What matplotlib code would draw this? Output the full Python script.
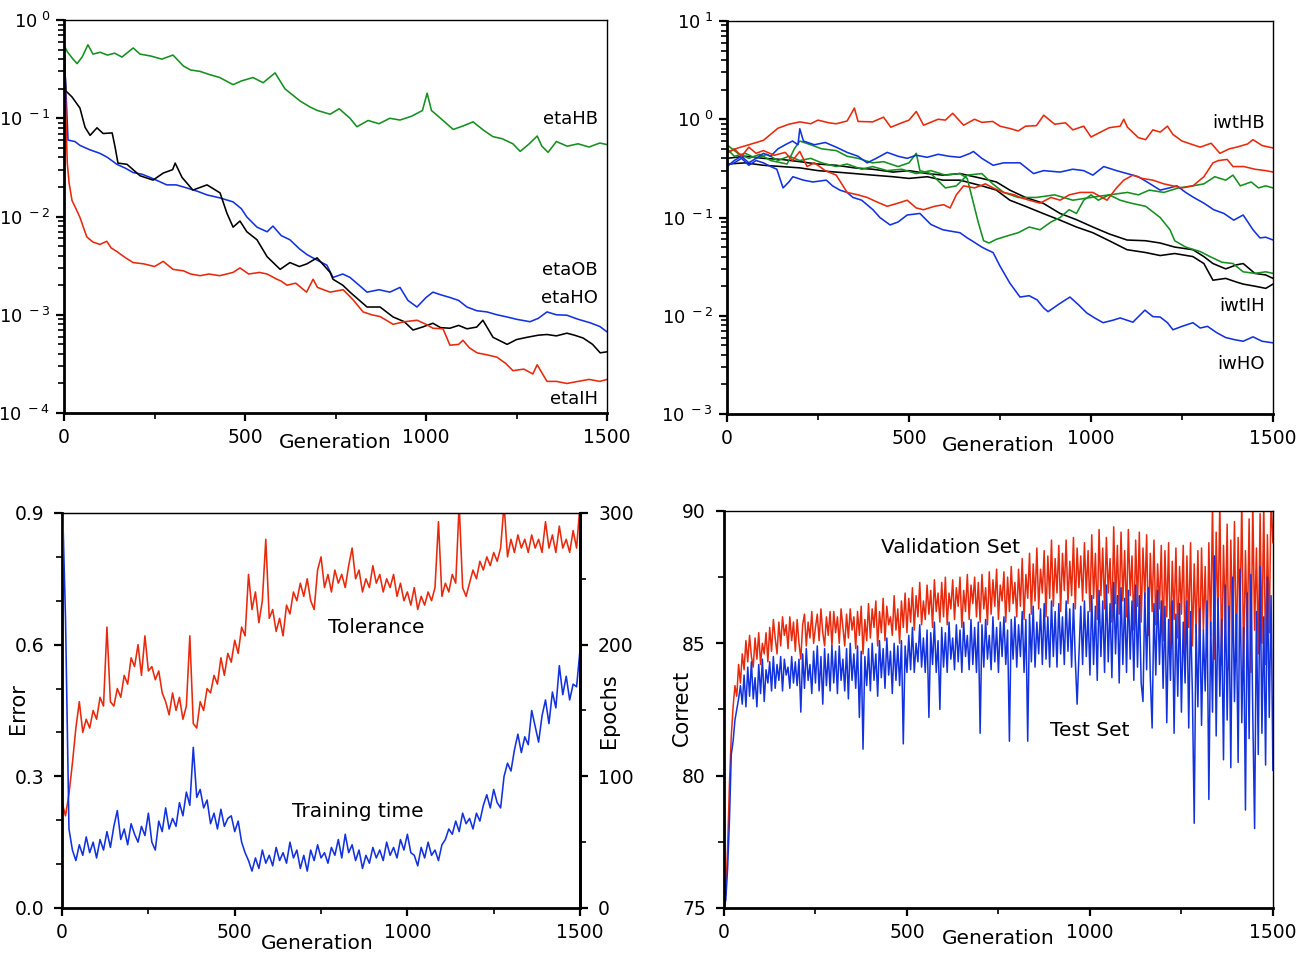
import numpy as np
import matplotlib
matplotlib.use("Agg")
import matplotlib.pyplot as plt
from matplotlib.ticker import FixedLocator, NullFormatter, LogLocator

plt.rcParams['font.family'] = ['DejaVu Sans']

RED = '#e8290c'
BLUE = '#1232e0'
GREEN = '#14901e'
BLACK = '#000000'
LW = 1.15

# ---------------- top left: learning rates (log) ----------------
eta_hb_gen = [0, 10, 25, 36, 50, 66, 80, 100, 120, 140, 160, 191, 210, 240, 270, 301, 330, 350, 376, 400,
              430, 467, 490, 522, 550, 583, 610, 652, 680, 700, 735, 760, 790, 809, 840, 870, 900, 928, 960,
              990, 1003, 1015, 1040, 1075, 1100, 1130, 1160, 1185, 1210, 1240, 1260, 1285, 1307, 1320, 1337,
              1360, 1390, 1420, 1450, 1480, 1500]
eta_hb = [0.55, 0.47, 0.40, 0.36, 0.42, 0.56, 0.45, 0.47, 0.44, 0.46, 0.42, 0.52, 0.45, 0.43, 0.40, 0.44,
          0.34, 0.31, 0.30, 0.28, 0.26, 0.22, 0.24, 0.26, 0.23, 0.29, 0.20, 0.15, 0.13, 0.12, 0.11, 0.125,
          0.10, 0.082, 0.095, 0.088, 0.10, 0.096, 0.105, 0.12, 0.18, 0.12, 0.10, 0.077, 0.083, 0.092, 0.075,
          0.065, 0.062, 0.055, 0.046, 0.055, 0.066, 0.052, 0.045, 0.058, 0.052, 0.055, 0.051, 0.056, 0.054]

eta_ih_gen = [0, 3, 6, 9, 14, 22, 33, 44, 55, 63, 80, 99, 118, 130, 146, 170, 191, 220, 250, 274, 301, 330,
              350, 376, 400, 430, 467, 486, 510, 540, 561, 588, 600, 616, 640, 670, 688, 700, 735, 771, 800,
              826, 850, 873, 909, 940, 975, 1000, 1019, 1047, 1066, 1090, 1102, 1120, 1141, 1170, 1196, 1220,
              1240, 1270, 1295, 1307, 1334, 1360, 1389, 1420, 1450, 1480, 1500]
eta_ih = [0.5, 0.25, 0.08, 0.035, 0.022, 0.0146, 0.012, 0.0098, 0.0075, 0.0062, 0.0055, 0.0052, 0.0056,
          0.0048, 0.0044, 0.0038, 0.0034, 0.0033, 0.0031, 0.0035, 0.0029, 0.0028, 0.0026, 0.0025, 0.0026,
          0.0025, 0.0027, 0.0030, 0.0026, 0.0027, 0.0026, 0.0023, 0.0022, 0.0020, 0.0021, 0.0017, 0.0023,
          0.0019, 0.0017, 0.0018, 0.0014, 0.00107, 0.0010, 0.00096, 0.0008, 0.00085, 0.00088, 0.0008,
          0.00073, 0.00072, 0.00049, 0.0005, 0.00055, 0.00046, 0.00041, 0.00039, 0.00037, 0.00032, 0.00027,
          0.00028, 0.00025, 0.00031, 0.00021, 0.00021, 0.0002, 0.00021, 0.00022, 0.00021, 0.00022]

eta_ho_gen = [0, 5, 11, 30, 44, 70, 99, 120, 146, 170, 191, 215, 238, 260, 284, 310, 340, 370, 395, 430, 467,
              490, 505, 533, 561, 577, 600, 624, 650, 671, 699, 726, 743, 770, 790, 815, 837, 870, 900, 928,
              950, 975, 1000, 1019, 1040, 1066, 1090, 1113, 1140, 1168, 1196, 1224, 1250, 1287, 1310, 1334,
              1360, 1389, 1420, 1453, 1480, 1500]
eta_ho = [0.5, 0.2, 0.06, 0.058, 0.053, 0.048, 0.044, 0.040, 0.034, 0.031, 0.028, 0.027, 0.025, 0.023, 0.021,
          0.021, 0.0195, 0.018, 0.0166, 0.0155, 0.0141, 0.012, 0.0099, 0.0078, 0.0070, 0.0080, 0.0064,
          0.0058, 0.0047, 0.0041, 0.0036, 0.0032, 0.0024, 0.0026, 0.0024, 0.0020, 0.0017, 0.0018, 0.0017,
          0.0019, 0.0014, 0.0012, 0.0015, 0.0017, 0.0016, 0.0015, 0.0014, 0.0012, 0.0011, 0.00107, 0.0010,
          0.00095, 0.0009, 0.00085, 0.00092, 0.00107, 0.001, 0.00099, 0.0009, 0.00083, 0.00076, 0.00067]

eta_ob_gen = [0, 5, 22, 44, 58, 72, 91, 108, 133, 141, 149, 174, 210, 246, 274, 300, 307, 326, 356, 395, 431,
              450, 467, 486, 505, 533, 561, 597, 624, 650, 671, 699, 735, 743, 770, 790, 837, 873, 909, 940,
              964, 990, 1019, 1040, 1066, 1090, 1113, 1140, 1157, 1185, 1224, 1250, 1279, 1310, 1334, 1360,
              1389, 1410, 1434, 1460, 1481, 1500]
eta_ob = [0.5, 0.19, 0.165, 0.127, 0.081, 0.067, 0.080, 0.070, 0.071, 0.051, 0.035, 0.034, 0.026, 0.0235,
          0.0277, 0.030, 0.035, 0.025, 0.0186, 0.021, 0.0174, 0.0108, 0.0078, 0.0090, 0.0070, 0.0058,
          0.0039, 0.0029, 0.0034, 0.0031, 0.0033, 0.0038, 0.0027, 0.0023, 0.0020, 0.0017, 0.0012, 0.0012,
          0.00095, 0.00085, 0.00070, 0.00075, 0.00082, 0.00074, 0.00073, 0.00078, 0.00072, 0.00075,
          0.00088, 0.00059, 0.00050, 0.00056, 0.00059, 0.00062, 0.00063, 0.00061, 0.00065, 0.00062,
          0.00058, 0.0005, 0.00041, 0.00042]

# ---------------- top right: initial weights (log) ----------------
hb1_gen = [0, 30, 60, 100, 140, 170, 200, 230, 250, 280, 300, 330, 350, 360, 400, 430, 450, 480, 500, 520,
           540, 550, 580, 600, 620, 650, 680, 700, 730, 750, 780, 800, 820, 850, 870, 900, 930, 950, 980,
           1000, 1020, 1050, 1080, 1090, 1100, 1130, 1150, 1170, 1190, 1210, 1225, 1250, 1280, 1300, 1330,
           1354, 1380, 1400, 1430, 1445, 1470, 1500]
hb1 = [0.46, 0.51, 0.55, 0.61, 0.81, 0.89, 0.94, 0.90, 0.98, 0.92, 0.90, 0.96, 1.3, 0.95, 0.94, 1.05, 0.83,
       0.92, 0.98, 1.2, 0.87, 0.90, 1.0, 0.98, 1.15, 0.87, 1.0, 0.93, 0.95, 0.85, 0.80, 0.76, 0.85, 0.86,
       1.1, 0.89, 0.92, 0.78, 0.85, 0.66, 0.72, 0.82, 0.85, 1.0, 0.83, 0.65, 0.62, 0.78, 0.74, 0.85, 0.70,
       0.60, 0.55, 0.52, 0.57, 0.45, 0.50, 0.52, 0.56, 0.62, 0.54, 0.51]

hb2_gen = [0, 20, 40, 60, 80, 100, 130, 160, 180, 200, 220, 240, 270, 300, 330, 360, 385, 410, 440, 470,
           495, 520, 540, 570, 595, 613, 630, 650, 680, 710, 731, 760, 790, 805, 830, 860, 890, 915, 940,
           970, 1005, 1030, 1044, 1070, 1090, 1115, 1140, 1170, 1200, 1225, 1250, 1280, 1310, 1335, 1350,
           1374, 1390, 1420, 1450, 1480, 1500]
hb2 = [0.45, 0.50, 0.42, 0.52, 0.45, 0.48, 0.43, 0.46, 0.38, 0.47, 0.33, 0.36, 0.30, 0.27, 0.18, 0.17,
       0.16, 0.145, 0.13, 0.14, 0.15, 0.125, 0.12, 0.13, 0.135, 0.125, 0.17, 0.21, 0.20, 0.22, 0.20, 0.18,
       0.17, 0.16, 0.15, 0.14, 0.16, 0.15, 0.17, 0.18, 0.18, 0.16, 0.15, 0.20, 0.24, 0.27, 0.25, 0.24,
       0.22, 0.21, 0.20, 0.21, 0.26, 0.36, 0.38, 0.39, 0.33, 0.33, 0.31, 0.30, 0.29]

ho1_gen = [0, 20, 40, 60, 80, 100, 120, 140, 160, 180, 195, 200, 210, 240, 270, 300, 330, 360, 385, 410,
           440, 470, 495, 520, 550, 580, 610, 640, 668, 677, 700, 731, 760, 805, 842, 870, 915, 950, 980,
           1005, 1035, 1070, 1099, 1130, 1154, 1190, 1215, 1236, 1260, 1282, 1310, 1337, 1365, 1392, 1418,
           1445, 1464, 1480, 1500]
ho1 = [0.33, 0.38, 0.42, 0.36, 0.40, 0.45, 0.42, 0.50, 0.55, 0.60, 0.55, 0.80, 0.60, 0.55, 0.58, 0.52,
       0.46, 0.42, 0.36, 0.40, 0.46, 0.42, 0.40, 0.43, 0.41, 0.44, 0.42, 0.41, 0.45, 0.47, 0.40, 0.34,
       0.36, 0.36, 0.28, 0.30, 0.29, 0.31, 0.30, 0.27, 0.33, 0.30, 0.28, 0.26, 0.23, 0.19, 0.20, 0.21,
       0.18, 0.16, 0.14, 0.12, 0.11, 0.094, 0.106, 0.075, 0.062, 0.063, 0.059]

ho2_gen = [0, 20, 40, 60, 80, 100, 120, 137, 154, 170, 181, 210, 236, 273, 290, 310, 330, 346, 370, 401,
           420, 448, 470, 495, 530, 560, 593, 620, 640, 660, 676, 700, 714, 731, 750, 777, 805, 830, 852,
           870, 882, 910, 942, 965, 988, 1010, 1033, 1060, 1080, 1115, 1148, 1170, 1190, 1210, 1225, 1250,
           1280, 1300, 1320, 1346, 1370, 1395, 1418, 1445, 1470, 1500]
ho2 = [0.34, 0.36, 0.40, 0.34, 0.38, 0.36, 0.33, 0.31, 0.20, 0.23, 0.26, 0.24, 0.23, 0.24, 0.21, 0.19,
       0.18, 0.16, 0.15, 0.12, 0.10, 0.084, 0.09, 0.106, 0.11, 0.085, 0.075, 0.072, 0.07, 0.062, 0.057,
       0.05, 0.047, 0.044, 0.032, 0.0215, 0.0155, 0.016, 0.0145, 0.012, 0.011, 0.013, 0.0155, 0.013,
       0.0107, 0.0095, 0.0085, 0.009, 0.0095, 0.0086, 0.0114, 0.0098, 0.0097, 0.0085, 0.0072, 0.0078,
       0.0085, 0.0075, 0.0078, 0.0067, 0.006, 0.0057, 0.0055, 0.0061, 0.0055, 0.0053]

ih_gen = [0, 50, 100, 150, 200, 250, 300, 350, 400, 456, 500, 550, 593, 640, 700, 740, 777, 820, 868, 915,
          960, 1005, 1050, 1099, 1150, 1190, 1230, 1280, 1310, 1335, 1370, 1400, 1418, 1450, 1480, 1500]
ih1 = [0.40, 0.42, 0.40, 0.39, 0.37, 0.35, 0.34, 0.32, 0.31, 0.29, 0.30, 0.28, 0.27, 0.28, 0.25, 0.23,
       0.19, 0.16, 0.14, 0.11, 0.095, 0.08, 0.068, 0.059, 0.058, 0.055, 0.05, 0.047, 0.04, 0.034, 0.03,
       0.033, 0.034, 0.027, 0.026, 0.024]
ih2 = [0.35, 0.36, 0.34, 0.33, 0.32, 0.30, 0.29, 0.28, 0.27, 0.26, 0.25, 0.26, 0.24, 0.24, 0.21, 0.19,
       0.15, 0.13, 0.11, 0.094, 0.08, 0.07, 0.058, 0.047, 0.044, 0.041, 0.043, 0.04, 0.034, 0.023, 0.024,
       0.022, 0.021, 0.02, 0.019, 0.021]

ib1_gen = [0, 20, 50, 80, 110, 140, 170, 200, 230, 260, 300, 330, 370, 400, 440, 480, 520, 560, 600, 640,
           660, 675, 690, 705, 720, 740, 770, 800, 830, 860, 890, 915, 940, 960, 980, 1000, 1020, 1050, 1100,
           1130, 1160, 1200, 1240, 1280, 1310, 1340, 1370, 1390, 1410, 1440, 1460, 1480, 1500]
ib1 = [0.50, 0.42, 0.45, 0.40, 0.44, 0.38, 0.42, 0.38, 0.40, 0.36, 0.33, 0.35, 0.31, 0.33, 0.30, 0.31,
       0.28, 0.30, 0.27, 0.28, 0.25, 0.15, 0.09, 0.058, 0.055, 0.06, 0.065, 0.07, 0.08, 0.075, 0.09, 0.10,
       0.12, 0.11, 0.15, 0.17, 0.15, 0.17, 0.18, 0.17, 0.19, 0.18, 0.20, 0.21, 0.22, 0.26, 0.24, 0.27,
       0.21, 0.23, 0.20, 0.21, 0.20]

ib2_gen = [0, 30, 60, 90, 120, 165, 185, 200, 230, 260, 300, 330, 360, 400, 430, 470, 500, 520, 530, 560,
           600, 630, 660, 700, 730, 760, 800, 850, 900, 950, 1000, 1050, 1080, 1110, 1150, 1190, 1217, 1230,
           1260, 1300, 1327, 1360, 1390, 1418, 1450, 1480, 1500]
ib2 = [0.55, 0.45, 0.40, 0.44, 0.38, 0.35, 0.50, 0.60, 0.55, 0.50, 0.48, 0.42, 0.40, 0.36, 0.37, 0.33,
       0.36, 0.45, 0.30, 0.28, 0.20, 0.21, 0.27, 0.28, 0.22, 0.18, 0.16, 0.16, 0.17, 0.15, 0.16, 0.17,
       0.15, 0.14, 0.13, 0.10, 0.075, 0.058, 0.05, 0.045, 0.04, 0.035, 0.034, 0.028, 0.027, 0.028, 0.027]

# ---------------- bottom left: tolerance (Error) & training time (Epochs), every 10 generations ----------------
tolerance = [0.24, 0.21, 0.26, 0.33, 0.41, 0.47, 0.40, 0.43, 0.41, 0.45, 0.43, 0.48, 0.46, 0.64, 0.47,
             0.46, 0.50, 0.48, 0.53, 0.51, 0.57, 0.55, 0.60, 0.53, 0.62, 0.54, 0.55, 0.52, 0.54, 0.49,
             0.47, 0.44, 0.49, 0.45, 0.48, 0.43, 0.46, 0.62, 0.42, 0.41, 0.47, 0.45, 0.50, 0.49, 0.53,
             0.51, 0.57, 0.53, 0.58, 0.56, 0.61, 0.58, 0.64, 0.62, 0.76, 0.68, 0.72, 0.65, 0.70, 0.84,
             0.66, 0.68, 0.63, 0.66, 0.62, 0.69, 0.67, 0.72, 0.70, 0.74, 0.71, 0.75, 0.70, 0.68, 0.77,
             0.80, 0.73, 0.76, 0.72, 0.77, 0.74, 0.76, 0.73, 0.78, 0.82, 0.75, 0.77, 0.72, 0.75, 0.73,
             0.78, 0.74, 0.76, 0.72, 0.75, 0.73, 0.76, 0.71, 0.74, 0.70, 0.72, 0.69, 0.73, 0.68, 0.71,
             0.69, 0.72, 0.70, 0.73, 0.88, 0.71, 0.74, 0.72, 0.76, 0.74, 0.92, 0.73, 0.71, 0.74, 0.77,
             0.75, 0.79, 0.77, 0.80, 0.78, 0.81, 0.79, 0.82, 0.92, 0.80, 0.84, 0.81, 0.85, 0.82, 0.84,
             0.81, 0.85, 0.82, 0.84, 0.81, 0.88, 0.82, 0.85, 0.81, 0.87, 0.82, 0.84, 0.81, 0.86, 0.82,
             0.92]
epochs = [320, 220, 60, 44, 36, 48, 40, 54, 42, 50, 38, 52, 44, 58, 46, 62, 74, 52, 60, 48, 64, 56, 50,
          62, 55, 72, 50, 44, 66, 58, 76, 60, 68, 62, 80, 70, 88, 78, 122, 84, 90, 76, 82, 64, 72, 60, 75,
          62, 68, 70, 58, 66, 50, 42, 36, 28, 38, 30, 44, 34, 40, 32, 46, 36, 42, 34, 50, 38, 44, 30, 40,
          28, 44, 36, 48, 38, 42, 34, 46, 40, 52, 38, 56, 42, 48, 36, 44, 30, 40, 34, 46, 38, 44, 36, 50,
          40, 46, 38, 52, 44, 56, 42, 40, 32, 46, 38, 50, 40, 44, 36, 48, 52, 60, 56, 66, 58, 72, 64, 68,
          60, 72, 66, 78, 86, 76, 90, 80, 76, 100, 110, 104, 120, 132, 118, 130, 124, 150, 138, 126, 146,
          158, 140, 164, 152, 184, 162, 176, 158, 170, 168, 196]

# ---------------- bottom right: percent correct, every 5 generations ----------------
validation = [
    75.0, 75.6, 77.3, 79.7, 81.5, 82.6, 83.4, 83.0, 84.2, 83.5, 84.6, 84.0, 85.1, 84.3, 85.3, 84.5, 84.1, 85.2, 84.4, 85.4,
    84.2, 85.0, 84.6, 85.4, 84.3, 85.6, 84.7, 85.9, 85.2, 84.6, 85.8, 84.9, 86.0, 85.3, 85.7, 84.8, 86.0, 85.1, 85.8, 84.7,
    85.9, 85.0, 84.4, 85.7, 86.1, 84.9, 85.8, 85.2, 86.2, 85.0, 85.6, 86.1, 85.1, 86.3, 85.4, 84.9, 86.0, 85.3, 86.2, 84.9,
    86.2, 85.4, 86.0, 85.0, 86.3, 85.6, 84.9, 86.1, 85.2, 86.3, 85.5, 86.0, 84.8, 86.2, 85.3, 86.4, 84.6, 85.9, 85.1, 86.5,
    85.2, 86.3, 85.6, 86.6, 84.9, 86.2, 85.4, 86.7, 85.1, 86.4, 85.7, 86.0, 85.3, 86.8, 85.5, 86.3, 85.0, 86.6, 85.6, 86.9,
    85.4, 86.7, 85.8, 87.1, 85.5, 86.8, 86.0, 87.3, 85.7, 86.6, 85.9, 87.2, 86.1, 87.0, 85.6, 87.4, 86.2, 86.9, 85.8, 87.3,
    86.0, 87.5, 85.7, 86.9, 86.3, 87.4, 85.9, 87.1, 86.4, 87.5, 85.6, 87.0, 86.2, 87.6, 85.9, 87.2, 86.5, 87.5, 86.0, 87.3,
    85.8, 87.6, 86.3, 87.1, 85.7, 87.7, 86.1, 87.4, 86.4, 87.8, 85.9, 87.2, 86.6, 87.7, 85.8, 87.5, 86.2, 87.9, 86.5, 87.3,
    86.0, 87.8, 86.4, 88.2, 85.9, 87.6, 86.7, 88.4, 86.1, 88.0, 86.6, 88.6, 86.3, 87.8, 86.9, 88.5, 86.0, 88.3, 86.7, 88.9,
    86.4, 88.2, 86.9, 88.7, 86.2, 88.4, 87.0, 88.9, 86.5, 88.1, 86.8, 89.0, 86.3, 88.6, 87.1, 88.3, 86.6, 88.8, 86.9, 88.5,
    86.2, 89.1, 86.7, 88.4, 85.9, 89.3, 86.8, 88.6, 86.3, 89.0, 86.9, 88.2, 85.8, 89.4, 86.5, 88.7, 86.1, 89.2, 86.6, 88.5,
    86.0, 89.3, 86.8, 88.3, 85.5, 88.9, 86.4, 89.2, 85.8, 88.6, 86.7, 89.1, 85.3, 88.4, 86.2, 88.9, 85.7, 88.0, 86.3, 88.7,
    85.1, 88.5, 86.0, 88.8, 84.8, 88.1, 85.9, 88.6, 85.2, 87.9, 86.1, 88.7, 84.6, 88.3, 85.6, 88.8, 84.9, 88.0, 85.4, 88.5,
    84.7, 88.6, 85.5, 87.9, 84.5, 88.8, 85.3, 90.3, 84.4, 89.2, 85.8, 90.4, 84.2, 88.7, 85.6, 89.5, 84.0, 88.9, 85.1, 89.6,
    84.3, 89.0, 85.7, 90.5, 84.1, 88.5, 85.2, 89.7, 83.9, 90.4, 85.5, 88.6, 84.6, 89.9, 85.0, 90.3, 84.2, 89.1, 85.4, 90.5,
    88.8]
test = [
    75.0, 75.3, 76.5, 78.3, 80.8, 81.3, 82.1, 82.5, 82.9, 83.4, 82.7, 83.8, 82.6, 84.1, 83.0, 84.3, 82.9, 83.7, 82.6, 84.2,
    83.1, 84.4, 82.8, 84.0, 83.5, 84.3, 83.2, 84.5, 83.3, 84.2, 83.6, 84.5, 83.2, 84.4, 83.8, 84.1, 83.3, 84.5, 83.5, 84.3,
    83.4, 84.4, 82.4, 84.6, 83.3, 84.8, 83.6, 84.2, 83.1, 84.7, 83.5, 84.9, 83.2, 84.5, 82.7, 84.8, 83.4, 84.6, 83.2, 84.9,
    83.5, 84.7, 83.1, 84.9, 83.6, 84.4, 83.2, 84.8, 82.9, 85.0, 83.6, 84.6, 83.3, 84.9, 82.2, 84.7, 81.0, 84.5, 83.4, 84.8,
    83.2, 85.0, 83.6, 84.6, 83.0, 85.1, 83.7, 84.8, 83.3, 85.2, 83.8, 84.7, 83.1, 85.0, 83.6, 84.9, 83.4, 85.1, 81.2, 84.9,
    83.9, 85.3, 84.0, 85.6, 83.9, 85.0, 84.3, 85.7, 84.1, 85.2, 83.9, 85.5, 82.2, 85.4, 84.2, 85.8, 83.9, 85.1, 82.5, 85.6,
    84.1, 85.4, 83.9, 85.8, 84.4, 85.2, 84.0, 85.7, 84.3, 85.5, 83.9, 85.8, 84.5, 85.3, 84.0, 85.9, 84.2, 85.6, 83.9, 85.8,
    81.6, 85.7, 84.1, 85.9, 84.4, 85.3, 84.0, 86.0, 84.3, 85.6, 83.9, 85.8, 84.5, 86.0, 84.2, 85.5, 81.3, 85.9, 84.4, 86.0,
    84.1, 85.7, 84.5, 86.2, 83.9, 85.9, 81.3, 86.1, 84.3, 86.4, 84.1, 85.8, 84.6, 86.3, 84.2, 86.5, 84.4, 86.0, 84.1, 86.6,
    84.5, 86.2, 84.1, 86.5, 84.6, 86.0, 84.2, 86.6, 84.7, 86.3, 84.1, 86.5, 84.4, 82.7, 84.6, 86.4, 84.2, 86.6, 84.5, 86.2,
    83.8, 86.8, 84.2, 86.4, 83.6, 87.0, 84.5, 86.6, 83.9, 87.2, 84.3, 86.5, 83.7, 87.3, 84.6, 86.8, 83.5, 87.1, 84.2, 86.7,
    83.9, 87.0, 84.4, 86.6, 83.6, 87.2, 84.1, 86.8, 83.5, 82.8, 86.9, 84.0, 87.1, 83.7, 81.8, 86.5, 83.8, 87.0, 84.2, 86.6,
    83.3, 86.4, 82.0, 85.9, 83.6, 86.6, 81.6, 86.1, 83.0, 86.5, 82.4, 85.8, 83.5, 86.6, 81.8, 86.2, 83.1, 78.2, 85.7, 82.6,
    86.3, 81.9, 85.5, 83.2, 86.6, 79.1, 85.8, 82.4, 88.3, 81.5, 86.7, 83.0, 85.9, 80.6, 87.2, 82.1, 86.4, 80.3, 87.5, 82.8,
    86.1, 80.5, 87.8, 82.0, 85.6, 78.7, 86.9, 81.4, 87.6, 82.3, 78.0, 86.2, 80.8, 87.9, 81.6, 86.0, 80.4, 87.5, 82.2, 86.8,
    80.2]

bl_gen = np.linspace(0, 1500, len(tolerance))
br_gen = np.linspace(0, 1500, len(validation))

fig = plt.figure(figsize=(13.12, 9.59), dpi=100)

TICK_FS = 13.5
LABEL_FS = 14.5


def style_axes(ax, right_thick=False):
    for side in ['left', 'bottom']:
        ax.spines[side].set_linewidth(2.0)
    ax.spines['top'].set_linewidth(1.0)
    ax.spines['right'].set_linewidth(2.0 if right_thick else 1.0)
    ax.tick_params(which='major', direction='out', length=6, width=1.6, labelsize=TICK_FS, pad=5)
    ax.tick_params(which='minor', direction='out', length=4, width=1.2)
    ax.tick_params(top=False, right=False)
    ax.set_xlim(0, 1500)
    ax.set_xticks([0, 500, 1000, 1500])
    ax.xaxis.set_minor_locator(FixedLocator([250, 750, 1250]))


def log_labels(ax, exps):
    ax.set_yscale('log')
    ax.set_yticks([10.0 ** e for e in exps])
    ax.set_yticklabels([r'$\mathregular{10^{\ %d}}$' % e for e in exps])
    ax.yaxis.set_minor_locator(LogLocator(base=10, subs=np.arange(2, 10)))
    ax.yaxis.set_minor_formatter(NullFormatter())
    ax.tick_params(axis='y', which='major', labelsize=13, pad=4)


# top left
ax1 = fig.add_axes([0.0488, 0.5693, 0.4139, 0.4098])
style_axes(ax1)
ax1.plot(eta_hb_gen, eta_hb, color=GREEN, lw=LW)
ax1.plot(eta_ho_gen, eta_ho, color=BLUE, lw=LW)
ax1.plot(eta_ob_gen, eta_ob, color=BLACK, lw=LW)
ax1.plot(eta_ih_gen, eta_ih, color=RED, lw=LW)
log_labels(ax1, [-4, -3, -2, -1, 0])
ax1.set_ylim(1e-4, 1)
for txt, yy in [('etaHB', 0.748), ('etaOB', 0.364), ('etaHO', 0.293), ('etaIH', 0.036)]:
    ax1.text(0.983, yy, txt, transform=ax1.transAxes, ha='right', va='center', fontsize=13)
ax1.text(0.499, -0.074, 'Generation', transform=ax1.transAxes, ha='center', va='center', fontsize=LABEL_FS)

# top right
ax2 = fig.add_axes([0.5541, 0.5683, 0.4162, 0.4098])
style_axes(ax2)
ax2.plot(ih_gen, ih1, color=BLACK, lw=LW)
ax2.plot(ih_gen, ih2, color=BLACK, lw=LW)
ax2.plot(ib1_gen, ib1, color=GREEN, lw=LW)
ax2.plot(ib2_gen, ib2, color=GREEN, lw=LW)
ax2.plot(ho1_gen, ho1, color=BLUE, lw=LW)
ax2.plot(ho2_gen, ho2, color=BLUE, lw=LW)
ax2.plot(hb2_gen, hb2, color=RED, lw=LW)
ax2.plot(hb1_gen, hb1, color=RED, lw=LW)
log_labels(ax2, [-3, -2, -1, 0, 1])
ax2.set_ylim(1e-3, 10)
for txt, yy in [('iwtHB', 0.740), ('iwtIH', 0.275), ('iwHO', 0.127)]:
    ax2.text(0.985, yy, txt, transform=ax2.transAxes, ha='right', va='center', fontsize=13)
ax2.text(0.496, -0.081, 'Generation', transform=ax2.transAxes, ha='center', va='center', fontsize=LABEL_FS)

# bottom left
ax3 = fig.add_axes([0.0473, 0.0532, 0.3948, 0.4119])
style_axes(ax3, right_thick=True)
ax3.plot(bl_gen, tolerance, color=RED, lw=LW)
ax3.set_ylim(0, 0.9)
ax3.set_yticks([0.0, 0.3, 0.6, 0.9])
ax3.set_yticklabels(['0.0', '0.3', '0.6', '0.9'])
ax3.yaxis.set_minor_locator(FixedLocator([0.1, 0.2, 0.4, 0.5, 0.7, 0.8]))
ax3.tick_params(axis='y', which='major', pad=7)
ax3b = ax3.twinx()
ax3b.plot(bl_gen, epochs, color=BLUE, lw=LW)
ax3b.set_ylim(0, 300)
ax3b.set_yticks([0, 100, 200, 300])
ax3b.yaxis.set_minor_locator(FixedLocator([50, 150, 250]))
ax3b.spines['right'].set_linewidth(2.0)
ax3b.tick_params(axis='y', which='major', direction='out', length=6, width=1.6, labelsize=TICK_FS, pad=7)
ax3b.tick_params(axis='y', which='minor', direction='out', length=4, width=1.2)
ax3.text(-0.085, 0.505, 'Error', transform=ax3.transAxes, rotation=90, ha='center', va='center', fontsize=15)
ax3.text(1.056, 0.50, 'Epochs', transform=ax3.transAxes, rotation=90, ha='center', va='center', fontsize=15)
ax3.text(0.606, 0.709, 'Tolerance', transform=ax3.transAxes, ha='center', va='center', fontsize=LABEL_FS)
ax3.text(0.571, 0.243, 'Training time', transform=ax3.transAxes, ha='center', va='center', fontsize=LABEL_FS)
ax3.text(0.492, -0.089, 'Generation', transform=ax3.transAxes, ha='center', va='center', fontsize=LABEL_FS)

# bottom right
ax4 = fig.add_axes([0.5518, 0.0532, 0.4184, 0.414])
style_axes(ax4)
ax4.plot(br_gen, validation, color=RED, lw=1.1)
ax4.plot(br_gen, test, color=BLUE, lw=1.1)
ax4.set_ylim(75, 90)
ax4.set_yticks([75, 80, 85, 90])
ax4.yaxis.set_minor_locator(FixedLocator([77.5, 82.5, 87.5]))
ax4.tick_params(axis='y', which='major', pad=7)
ax4.text(-0.0765, 0.505, 'Correct', transform=ax4.transAxes, rotation=90, ha='center', va='center', fontsize=15)
ax4.text(0.412, 0.909, 'Validation Set', transform=ax4.transAxes, ha='center', va='center', fontsize=LABEL_FS)
ax4.text(0.667, 0.448, 'Test Set', transform=ax4.transAxes, ha='center', va='center', fontsize=LABEL_FS)
ax4.text(0.499, -0.076, 'Generation', transform=ax4.transAxes, ha='center', va='center', fontsize=LABEL_FS)

fig.savefig('out.png', dpi=100)
